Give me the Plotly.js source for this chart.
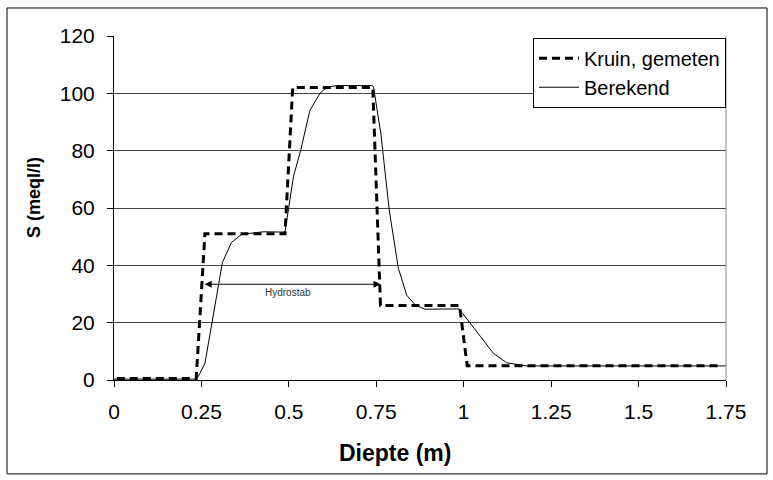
<!DOCTYPE html>
<html>
<head>
<meta charset="utf-8">
<script src="https://cdn.plot.ly/plotly-3.0.1.min.js"></script>
<style>html,body{margin:0;padding:0;background:#fff;}#chart{width:773px;height:480px;}</style>
</head>
<body>
<div id="chart"></div>
<script>
// Measured series "Kruin, gemeten"
const measuredX = [0.008, 0.235, 0.26, 0.489, 0.511, 0.74, 0.762, 0.988, 1.01, 1.727];
const measuredY = [0.5, 0.5, 51, 51, 102, 102, 26, 26, 5, 5];
// Calculated series "Berekend"
const calcX = [0, 0.235, 0.241, 0.26, 0.31, 0.336, 0.365, 0.427, 0.489, 0.513, 0.534, 0.56, 0.589, 0.608, 0.637, 0.737, 0.742, 0.763, 0.787, 0.813, 0.837, 0.861, 0.889, 0.987, 1.085, 1.123, 1.18, 1.75];
const calcY = [0.3, 0.3, 1.2, 5.8, 41, 48, 50.8, 51.7, 51.6, 70.9, 80.2, 94, 100, 102.1, 102.7, 102.7, 102.3, 86, 59.3, 39, 29.6, 26.2, 24.7, 24.8, 9.3, 6, 4.9, 4.9];
const seriesNames = ["Kruin, gemeten", "Berekend"];
const xTicks = [0, 0.25, 0.5, 0.75, 1, 1.25, 1.5, 1.75];
const xTickLabels = ["0", "0.25", "0.5", "0.75", "1", "1.25", "1.5", "1.75"];
const yTicks = [0, 20, 40, 60, 80, 100, 120];
const hydroStart = 0.255, hydroEnd = 0.762, hydroLevel = 33.4;

const FONT = "Liberation Sans, Arial, sans-serif";

const traces = [
  {x: measuredX, y: measuredY, name: seriesNames[0], mode: "lines",
   line: {color: "#000", width: 3, dash: "8px,5px"}},
  {x: calcX, y: calcY, name: seriesNames[1], mode: "lines",
   line: {color: "#000", width: 1}}
];

const layout = {
  width: 773, height: 480,
  margin: {l: 114, r: 47, t: 36, b: 100, pad: 0},
  paper_bgcolor: "#fff", plot_bgcolor: "#fff",
  font: {family: FONT, color: "#000"},
  showlegend: true,
  legend: {x: 1, xanchor: "right", y: 0.995, yanchor: "top", itemwidth: 40,
           bgcolor: "#fff", bordercolor: "#000", borderwidth: 1,
           font: {family: FONT, size: 20, color: "#000"}},
  xaxis: {range: [0, 1.75], tickvals: xTicks, ticktext: xTickLabels,
          showgrid: false, zeroline: false, showline: true, linecolor: "#000", linewidth: 1,
          ticks: "outside", ticklen: 6, tickcolor: "#000", ticklabelstandoff: 7,
          tickfont: {family: FONT, size: 21, color: "#000"}, fixedrange: true},
  yaxis: {range: [0, 120], tickvals: yTicks,
          showgrid: true, gridcolor: "#444", gridwidth: 1, zeroline: false,
          showline: true, linecolor: "#000", linewidth: 1,
          ticks: "outside", ticklen: 6, tickcolor: "#000", ticklabelstandoff: 8,
          tickfont: {family: FONT, size: 21, color: "#000"}, fixedrange: true},
  shapes: [
    {type: "rect", xref: "paper", yref: "paper", x0: -0.1748, x1: 1.067, y0: -0.273, y1: 1.0814,
     line: {color: "#000", width: 1}, fillcolor: "rgba(0,0,0,0)", layer: "below"},
    {type: "line", xref: "paper", yref: "paper", x0: 1, x1: 1, y0: 0, y1: 1,
     line: {color: "#888", width: 1}}
  ],
  annotations: [
    {x: hydroEnd, y: hydroLevel, ax: hydroStart, ay: hydroLevel, axref: "x", ayref: "y",
     xref: "x", yref: "y", text: "", showarrow: true, arrowside: "end+start",
     arrowhead: 2, arrowsize: 1.4, arrowwidth: 1, arrowcolor: "#000", standoff: 0, startstandoff: 0},
    {x: 0.498, y: 30.6, xref: "x", yref: "y", text: "Hydrostab", showarrow: false,
     xanchor: "center", yanchor: "middle",
     font: {family: FONT, size: 10, color: "#333"}},
    {x: 0.459, y: -0.212, xref: "paper", yref: "paper", text: "<b>Diepte (m)</b>", showarrow: false,
     xanchor: "center", yanchor: "middle",
     font: {family: FONT, size: 23, color: "#000"}},
    {x: -0.1307, y: 0.529, xref: "paper", yref: "paper", text: "<b>S (meql/l)</b>", showarrow: false,
     xanchor: "center", yanchor: "middle",
     textangle: -90, font: {family: FONT, size: 18, color: "#000"}}
  ]
};

Plotly.newPlot("chart", traces, layout, {displayModeBar: false, staticPlot: true});
</script>
</body>
</html>
